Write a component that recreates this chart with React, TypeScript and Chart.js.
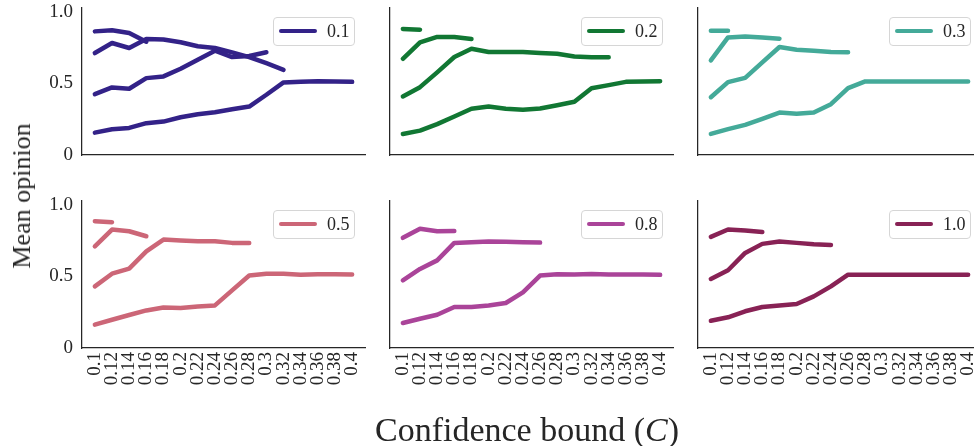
import React, { useEffect, useRef } from 'react';
import { Chart, registerables } from 'chart.js';

Chart.register(...registerables);

// ---------- data ----------
const categories = ['0.1', '0.12', '0.14', '0.16', '0.18', '0.2', '0.22', '0.24', '0.26', '0.28', '0.3', '0.32', '0.34', '0.36', '0.38', '0.4'];
const yTickValues = [0, 0.5, 1.0];
const yTickLabels = ['0', '0.5', '1.0'];

const panelLabels = ['0.1', '0.2', '0.3', '0.5', '0.8', '1.0'];
const panelColors = ['#332288', '#117733', '#44AA99', '#CC6677', '#AA4499', '#882255'];

// panel 0.1
const s01Top = [0.862, 0.870, 0.851, 0.790];
const s01High = [0.711, 0.781, 0.746, 0.809, 0.806, 0.786, 0.758, 0.746, 0.716, 0.683, 0.640, 0.594];
const s01Mid = [0.424, 0.471, 0.462, 0.536, 0.548, 0.601, 0.664, 0.727, 0.683, 0.690, 0.716];
const s01Low = [0.156, 0.180, 0.189, 0.222, 0.233, 0.263, 0.284, 0.298, 0.319, 0.338, 0.420, 0.506, 0.510, 0.515, 0.513, 0.510];

// panel 0.2
const s02Top = [0.879, 0.874];
const s02High = [0.671, 0.786, 0.823, 0.823, 0.809];
const s02Mid = [0.408, 0.473, 0.576, 0.683, 0.741, 0.718, 0.718, 0.718, 0.711, 0.706, 0.687, 0.681, 0.681];
const s02Low = [0.147, 0.170, 0.215, 0.268, 0.322, 0.338, 0.322, 0.315, 0.324, 0.347, 0.371, 0.466, 0.487, 0.510, 0.512, 0.515];

// panel 0.3
const s03Top = [0.867, 0.867];
const s03High = [0.660, 0.820, 0.827, 0.820, 0.811];
const s03Mid = [0.403, 0.508, 0.538, 0.646, 0.753, 0.734, 0.727, 0.718, 0.716];
const s03Low = [0.147, 0.180, 0.210, 0.252, 0.296, 0.287, 0.296, 0.354, 0.466, 0.513, 0.513, 0.513, 0.513, 0.513, 0.513, 0.513];

// panel 0.5
const s05Top = [0.884, 0.877];
const s05High = [0.709, 0.826, 0.814, 0.779];
const s05Mid = [0.430, 0.518, 0.553, 0.674, 0.756, 0.749, 0.744, 0.744, 0.733, 0.733];
const s05Low = [0.163, 0.197, 0.230, 0.262, 0.283, 0.279, 0.290, 0.297, 0.402, 0.505, 0.518, 0.518, 0.511, 0.514, 0.514, 0.512];

// panel 0.8
const s08High = [0.768, 0.832, 0.814, 0.816];
const s08Mid = [0.472, 0.551, 0.611, 0.733, 0.737, 0.742, 0.740, 0.737, 0.735];
const s08Low = [0.174, 0.204, 0.232, 0.286, 0.286, 0.297, 0.314, 0.388, 0.505, 0.514, 0.512, 0.516, 0.512, 0.512, 0.512, 0.510];

// panel 1.0
const s10High = [0.775, 0.826, 0.820, 0.809];
const s10Mid = [0.481, 0.542, 0.663, 0.726, 0.742, 0.733, 0.723, 0.719];
const s10Low = [0.190, 0.214, 0.256, 0.286, 0.297, 0.307, 0.360, 0.430, 0.511, 0.511, 0.511, 0.511, 0.511, 0.511, 0.511, 0.511];

const panelSeries: number[][][] = [
  [s01Top, s01High, s01Mid, s01Low],
  [s02Top, s02High, s02Mid, s02Low],
  [s03Top, s03High, s03Mid, s03Low],
  [s05Top, s05High, s05Mid, s05Low],
  [s08High, s08Mid, s08Low],
  [s10High, s10Mid, s10Low],
];

// ---------- layout ----------
const ROW_TOP = [8, 201];
const COL_X = [82, 390, 698];
const AREA_W = 283;
const AREA_H = 147;
const Y_AXIS_W = 82;
const PAD_TOP = 8;
const PAD_RIGHT = 4;
const X_AXIS_H = [10, 60];
const TEXT = '#262626';
const FONT = '"Liberation Serif", "Times New Roman", serif';

const zeroPadding = (s: any) => {
  s.paddingTop = 0;
  s.paddingBottom = 0;
  s.paddingLeft = 0;
  s.paddingRight = 0;
};

function Panel({ idx }: { idx: number }) {
  const ref = useRef<HTMLCanvasElement>(null);
  const row = Math.floor(idx / 3);
  const col = idx % 3;
  const width = Y_AXIS_W + AREA_W + PAD_RIGHT;
  const height = PAD_TOP + AREA_H + X_AXIS_H[row];

  useEffect(() => {
    if (!ref.current) return;
    const color = panelColors[idx];
    const chart = new Chart(ref.current, {
      type: 'line',
      data: {
        datasets: panelSeries[idx].map((s, k) => ({
          label: k === 0 ? panelLabels[idx] : '',
          data: s.map((v, i) => ({ x: i, y: v })),
          borderColor: color,
          backgroundColor: color,
          borderWidth: 4.5,
          pointRadius: 0,
          fill: false,
          tension: 0,
          borderCapStyle: 'round',
          borderJoinStyle: 'round',
        })),
      },
      options: {
        responsive: false,
        animation: false,
        events: [],
        layout: { padding: { top: PAD_TOP, right: PAD_RIGHT, left: 0, bottom: 0 } },
        plugins: { legend: { display: false }, tooltip: { enabled: false } },
        scales: {
          x: {
            type: 'linear',
            min: -0.75,
            max: categories.length - 0.25,
            grid: { display: false, drawTicks: false },
            border: { display: true, color: TEXT, width: 1.25 },
            afterBuildTicks: (s: any) => {
              s.ticks = categories.map((_, i) => ({ value: i }));
            },
            afterFit: (s: any) => {
              s.height = X_AXIS_H[row];
              zeroPadding(s);
            },
            ticks: {
              display: row === 1,
              autoSkip: false,
              maxRotation: 90,
              minRotation: 90,
              padding: 4,
              color: TEXT,
              font: { family: FONT, size: 19 },
              callback: (_v: any, i: number) => categories[i],
            },
          },
          y: {
            type: 'linear',
            min: 0,
            max: 1.025,
            grid: { display: false, drawTicks: false },
            border: { display: true, color: TEXT, width: 1.25 },
            afterBuildTicks: (s: any) => {
              s.ticks = yTickValues.map((v) => ({ value: v }));
            },
            afterFit: (s: any) => {
              s.width = Y_AXIS_W;
              zeroPadding(s);
            },
            ticks: {
              display: col === 0,
              padding: 9,
              color: TEXT,
              font: { family: FONT, size: 19 },
              callback: (_v: any, i: number) => yTickLabels[i],
            },
          },
        },
      },
    } as any);
    return () => chart.destroy();
  }, [idx]);

  return (
    <canvas
      ref={ref}
      width={width}
      height={height}
      style={{
        position: 'absolute',
        left: COL_X[col] - Y_AXIS_W,
        top: ROW_TOP[row] - PAD_TOP,
        width,
        height,
      }}
    />
  );
}

function Legend({ idx }: { idx: number }) {
  const row = Math.floor(idx / 3);
  const col = idx % 3;
  return (
    <div
      style={{
        position: 'absolute',
        left: COL_X[col] + AREA_W - 10 - 82,
        top: ROW_TOP[row] + 9,
        width: 82,
        height: 29,
        boxSizing: 'border-box',
        border: '1px solid #d6d6d6',
        borderRadius: 4,
        background: 'rgba(255,255,255,0.85)',
      }}
    >
      <div
        style={{
          position: 'absolute',
          left: 5,
          top: 10.5,
          width: 38,
          height: 4.5,
          borderRadius: 2.5,
          background: panelColors[idx],
        }}
      />
      <div
        style={{
          position: 'absolute',
          left: 53,
          top: 0,
          height: 27,
          lineHeight: '27px',
          fontSize: 18,
          color: TEXT,
          fontFamily: FONT,
        }}
      >
        {panelLabels[idx]}
      </div>
    </div>
  );
}

export default function App() {
  return (
    <div
      style={{
        position: 'fixed',
        left: 0,
        top: 0,
        width: 974,
        height: 446,
        overflow: 'hidden',
        background: '#fff',
        fontFamily: FONT,
        color: TEXT,
      }}
    >
      {panelLabels.map((_, i) => (
        <Panel key={'p' + i} idx={i} />
      ))}
      {panelLabels.map((_, i) => (
        <Legend key={'l' + i} idx={i} />
      ))}
      <div
        style={{
          position: 'absolute',
          left: 22,
          top: 196,
          transform: 'translate(-50%, -50%) rotate(-90deg)',
          whiteSpace: 'nowrap',
          fontSize: 26,
        }}
      >
        Mean opinion
      </div>
      <div
        style={{
          position: 'absolute',
          left: 527,
          top: 430,
          transform: 'translate(-50%, -50%)',
          whiteSpace: 'nowrap',
          fontSize: 34,
        }}
      >
        Confidence bound (<i>C</i>)
      </div>
    </div>
  );
}
